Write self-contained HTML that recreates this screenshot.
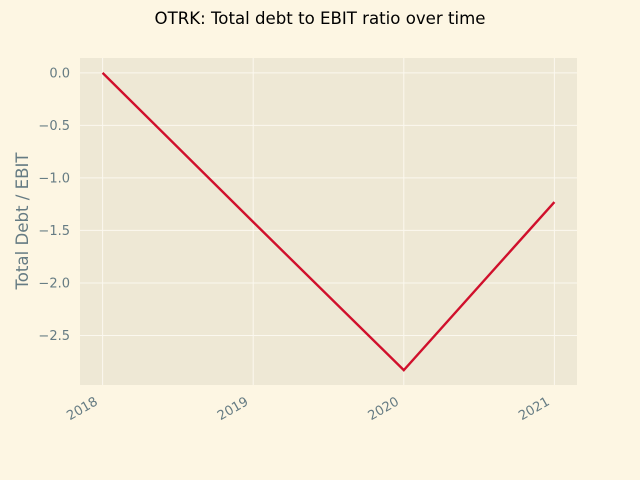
<!DOCTYPE html>
<html><head><meta charset="utf-8"><style>
body{margin:0;background:#fdf6e3;}
svg{display:block;font-family:"DejaVu Sans","Liberation Sans",sans-serif;}
</style></head><body>
<svg id="chart" width="640" height="480" viewBox="0 0 640 480">
<rect x="0" y="0" width="640" height="480" fill="#fdf6e3"/>
<text x="320" y="24" text-anchor="middle" font-size="16.6" fill="#000">OTRK: Total debt to EBIT ratio over time</text>
<rect x="80" y="58" width="497" height="327" fill="#eee8d5"/>
<g id="grid"></g><g id="ticks"></g><g id="series"></g>
<text transform="translate(28,221) rotate(-90)" text-anchor="middle" font-size="16.6" fill="#657b83">Total Debt / EBIT</text>
</svg>
<script>
const years = ["2018","2019","2020","2021"];
const ratios = [0.0, -1.42, -2.83, -1.23];
const yTicks = [0, -0.5, -1.0, -1.5, -2.0, -2.5];
const yTickLabels = ["0.0","−0.5","−1.0","−1.5","−2.0","−2.5"];

const L=80,R=577,T=58,B=385;
const ymin=Math.min(...ratios,0), ymax=Math.max(...ratios,0);
const pad=(ymax-ymin)*0.05;
const y0=ymin-pad, y1=ymax+pad;
const xpad=(years.length-1)*0.05;
const sx=i=>L+(i+xpad)/(years.length-1+2*xpad)*(R-L);
const sy=v=>B-(v-y0)/(y1-y0)*(B-T);
const NS="http://www.w3.org/2000/svg";
function mk(tag,attrs,parent){const e=document.createElementNS(NS,tag);for(const k in attrs)e.setAttribute(k,attrs[k]);parent.appendChild(e);return e;}
const grid=document.getElementById('grid'),ticks=document.getElementById('ticks'),series=document.getElementById('series');
yTicks.forEach((v,i)=>{
  const y=sy(v);
  const g=mk('line',{x1:L,x2:R,y1:y,y2:y,stroke:'#fbf8ef','stroke-width':1},grid);
  
  
  const t=mk('text',{x:L-10,y:y+4.5,'text-anchor':'end','font-size':13,fill:'#657b83'},ticks);
  t.textContent=yTickLabels[i];
  
  
});
years.forEach((yr,i)=>{
  const x=sx(i);
  const g=mk('line',{x1:x,x2:x,y1:T,y2:B,stroke:'#fbf8ef','stroke-width':1},grid);
  
  
  const t=mk('text',{x:x-4,y:B+19,'text-anchor':'end','font-size':13,fill:'#657b83',transform:`rotate(-30 ${x-4} ${B+19})`},ticks);
  t.textContent=yr;
  
  
});
const pts=ratios.map((v,i)=>sx(i)+','+sy(v)).join(' ');
const pl=mk('polyline',{points:pts,fill:'none',stroke:'#d0102c','stroke-width':2.4},series);


</script>
</body></html>
